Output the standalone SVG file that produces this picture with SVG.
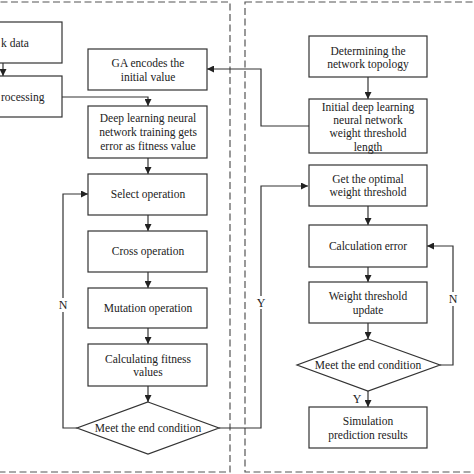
<svg xmlns="http://www.w3.org/2000/svg" width="474" height="474" viewBox="0 0 474 474">
<defs>
<marker id="ah" viewBox="0 0 10 10" refX="10" refY="5" markerWidth="7" markerHeight="7" markerUnits="userSpaceOnUse" orient="auto">
<path d="M0,0 L10,5 L0,10 z" fill="#222"/>
</marker>
</defs>
<style>
.box{fill:#fff;stroke:#333;stroke-width:1.2}
.dash{fill:none;stroke:#555;stroke-width:1.2;stroke-dasharray:7 3.5}
.ln{fill:none;stroke:#333;stroke-width:1.2}
.ar{fill:none;stroke:#333;stroke-width:1.2;marker-end:url(#ah)}
text{font-family:"Liberation Serif","Times New Roman",serif;font-size:11.5px;fill:#222;text-anchor:middle}
.lbl{font-size:12px}
</style>
<rect width="474" height="474" fill="#fff"/>
<g id="panels">
<rect class="dash" x="-10" y="2" width="240" height="470"/>
<rect class="dash" x="245" y="2" width="240" height="470"/>
</g>
<g id="connectors">
<path class="ar" d="M3,63 V76"/>
<path class="ar" d="M62,97 H148 V106"/>
<path class="ar" d="M148,158 V174"/>
<path class="ar" d="M148,215 V231"/>
<path class="ar" d="M148,272 V288"/>
<path class="ar" d="M148,328 V344"/>
<path class="ar" d="M148,386 V402"/>
<path class="ln" d="M77,428 H63 V312"/>
<path class="ar" d="M63,298 V194 H88"/>
<path class="ln" d="M219,428 H261 V309"/>
<path class="ar" d="M261,296 V186 H308"/>
<path class="ar" d="M368,77 V99"/>
<path class="ar" d="M309,126 H261 V69 H207"/>
<path class="ar" d="M368,206 V225"/>
<path class="ar" d="M368,267 V282"/>
<path class="ar" d="M368,323 V339"/>
<path class="ar" d="M368,391 V407"/>
<path class="ln" d="M440,365 H453 V306"/>
<path class="ar" d="M453,292 V246 H427"/>
<text class="lbl" x="63" y="309">N</text>
<text class="lbl" x="261" y="307">Y</text>
<text class="lbl" x="453" y="303">N</text>
<text class="lbl" x="357" y="403">Y</text>
</g>
<g id="n-data">
<rect class="box" x="-60" y="22" width="122" height="41"/>
<text x="1" y="47" style="text-anchor:start">k data</text>
</g>
<g id="n-processing">
<rect class="box" x="-60" y="76" width="122" height="41"/>
<text x="1" y="101" style="text-anchor:start">rocessing</text>
</g>
<g id="n-ga">
<rect class="box" x="88" y="49" width="119" height="41"/>
<text x="148" y="67">GA encodes the</text>
<text x="148" y="81">initial value</text>
</g>
<g id="n-dl">
<rect class="box" x="88" y="106" width="119" height="52"/>
<text x="148" y="122">Deep learning neural</text>
<text x="148" y="136">network training gets</text>
<text x="148" y="150">error as fitness value</text>
</g>
<g id="n-select">
<rect class="box" x="88" y="174" width="119" height="41"/>
<text x="148" y="198">Select operation</text>
</g>
<g id="n-cross">
<rect class="box" x="88" y="231" width="119" height="41"/>
<text x="148" y="255">Cross operation</text>
</g>
<g id="n-mutation">
<rect class="box" x="88" y="288" width="119" height="40"/>
<text x="148" y="312">Mutation operation</text>
</g>
<g id="n-calcfit">
<rect class="box" x="88" y="344" width="119" height="42"/>
<text x="148" y="363">Calculating fitness</text>
<text x="148" y="376">values</text>
</g>
<g id="n-end1">
<polygon class="box" points="148,402 219,428 148,454 77,428"/>
<text x="148" y="432">Meet the end condition</text>
</g>
<g id="n-topology">
<rect class="box" x="309" y="36" width="118" height="41"/>
<text x="368" y="55">Determining the</text>
<text x="368" y="68">network topology</text>
</g>
<g id="n-initial">
<rect class="box" x="309" y="99" width="118" height="54"/>
<text x="368" y="111">Initial deep learning</text>
<text x="368" y="124">neural network</text>
<text x="368" y="137">weight threshold</text>
<text x="368" y="151">length</text>
</g>
<g id="n-optimal">
<rect class="box" x="309" y="165" width="118" height="41"/>
<text x="368" y="183">Get the optimal</text>
<text x="368" y="196">weight threshold</text>
</g>
<g id="n-calcerr">
<rect class="box" x="309" y="225" width="118" height="42"/>
<text x="368" y="250">Calculation error</text>
</g>
<g id="n-update">
<rect class="box" x="309" y="282" width="118" height="41"/>
<text x="368" y="300">Weight threshold</text>
<text x="368" y="314">update</text>
</g>
<g id="n-end2">
<polygon class="box" points="368,339 440,365 368,391 297,365"/>
<text x="368" y="369">Meet the end condition</text>
</g>
<g id="n-sim">
<rect class="box" x="309" y="407" width="118" height="41"/>
<text x="368" y="425">Simulation</text>
<text x="368" y="439">prediction results</text>
</g>
</svg>
